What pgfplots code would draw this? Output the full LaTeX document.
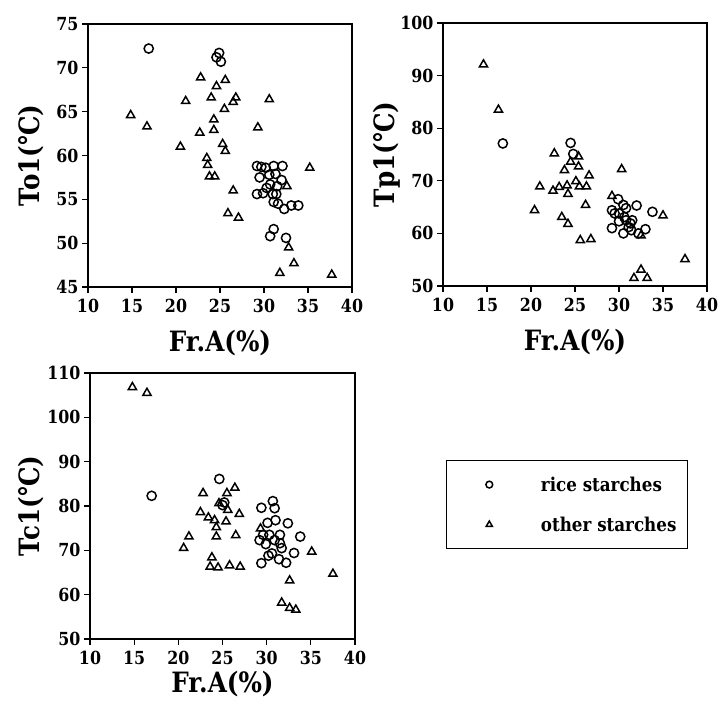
\documentclass[border=0pt]{standalone}
\usepackage{fontspec}
\setmainfont{DejaVu Serif}[FakeStretch=0.88]
\usepackage{pgfplots}
\pgfplotsset{compat=1.18}
\newcommand\degc{℃}
\newcommand\ticfont{\bfseries\fontsize{18}{18}\selectfont}
\newcommand\xlabfont{\bfseries\fontsize{28}{28}\selectfont}
\newcommand\ylabfont{\bfseries\fontsize{28}{28}\selectfont}
\newcommand\legfont{\bfseries\fontsize{19}{19}\selectfont}

\pgfplotsset{
  panel/.style={
    scale only axis, anchor=north west,
    xmin=10, xmax=40, xtick={10,15,...,40},
    axis line style={line width=1.2pt},
    tick align=outside, tick pos=left,
    major tick length=6pt,
    every tick/.style={line width=1.2pt, black},
    /pgf/number format/assume math mode=true,
    tick label style={font=\ticfont},
    xticklabel style={yshift=-3pt},
    xlabel={Fr.A(\%)},
    xlabel style={font=\xlabfont, anchor=base},
    ylabel style={font=\ylabfont, anchor=base},
  },
  rice/.style={only marks, mark=o, mark size=4.6pt,
    mark options={line width=1.5pt, black},
    legend image code/.code={\path (0pt,0pt) (40pt,0pt);
      \draw[##1, mark size=3.4pt] plot coordinates {(31pt,0pt)};}},
  other/.style={only marks, mark=triangle, mark size=4.7pt,
    mark options={line width=1.5pt, black},
    legend image code/.code={\path (0pt,0pt) (40pt,0pt);
      \draw[##1, mark size=3.5pt] plot coordinates {(31pt,0pt)};}},
}

\begin{document}
\begin{tikzpicture}
\useasboundingbox (0pt,0pt) rectangle (719pt,-704pt);

% To1
\begin{axis}[panel, at={(88pt,-24pt)}, width=264pt, height=263pt,
  ymin=45, ymax=75, ytick={45,50,...,75},
  ylabel={To1(\degc)},
  xlabel style={at={(axis description cs:0.5,-0.245)}},
  ylabel style={at={(axis description cs:-0.182,0.5)}}]
\addplot[rice] coordinates {
(16.9,72.2) (24.9,71.7) (25.1,70.7) (24.6,71.2)
(29.2,58.8) (29.7,58.7) (30.2,58.6) (31.1,58.8) (32.1,58.8)
(29.5,57.5) (30.6,57.8) (31.3,57.9) (32.0,57.2) (31.5,56.5)
(30.7,56.7) (30.3,56.3) (29.2,55.6) (29.9,55.7) (31.0,55.6)
(31.4,55.6) (31.6,54.5) (31.1,54.7) (32.3,53.9) (33.1,54.3)
(33.9,54.3) (31.1,51.6) (30.7,50.8) (32.5,50.6)};
\addplot[other] coordinates {
(14.85,64.6) (16.7,63.3) (20.5,61.0) (21.1,66.2) (22.8,68.9)
(22.7,62.6) (23.5,59.7) (23.6,58.9) (23.8,57.6) (24.4,57.6)
(24.0,66.6) (24.6,67.9) (24.3,64.1) (24.3,62.9) (25.6,68.6)
(25.5,65.3) (25.3,61.3) (25.6,60.5) (26.5,66.1) (26.8,66.6)
(26.5,56.0) (25.9,53.4) (27.1,52.9) (30.6,66.4) (29.3,63.2)
(35.2,58.6) (32.6,56.5) (32.8,49.5) (33.4,47.7) (31.8,46.6)
(37.7,46.4)};
\end{axis}

% Tp1
\begin{axis}[panel, at={(443pt,-23pt)}, width=264pt, height=263pt,
  ymin=50, ymax=100, ytick={50,60,...,100},
  ylabel={Tp1(\degc)},
  xlabel style={at={(axis description cs:0.5,-0.245)}},
  ylabel style={at={(axis description cs:-0.182,0.5)}}]
\addplot[rice] coordinates {
(16.8,77.1) (24.5,77.2) (24.8,75.1) (29.9,66.5) (29.2,64.4)
(29.5,63.8) (30.0,63.8) (30.5,65.4) (30.8,64.8) (32.0,65.3)
(30.0,62.3) (29.2,61.0) (30.5,60.0) (31.1,61.2) (31.5,62.5)
(31.4,60.6) (31.3,61.9) (32.2,60.0) (33.0,60.8) (33.8,64.1)
(30.6,63.1) (30.8,62.5)};
\addplot[other] coordinates {
(14.6,92.1) (16.3,83.5) (22.65,75.2) (21.0,68.9) (20.4,64.4)
(22.5,68.1) (23.2,68.8) (23.8,72.0) (24.2,67.5) (24.1,69.1)
(24.5,73.6) (25.1,69.9) (25.4,72.7) (25.4,74.6) (25.5,68.9)
(26.3,68.9) (26.6,71.0) (26.2,65.4) (23.5,63.1) (24.2,61.8)
(25.6,58.7) (26.8,58.9) (30.3,72.2) (29.2,67.1) (35.0,63.4)
(37.5,55.1) (31.7,51.5) (32.5,53.1) (33.2,51.5) (32.5,59.6)};
\end{axis}

% Tc1
\begin{axis}[panel, at={(90pt,-373pt)}, width=265pt, height=266pt,
  ymin=50, ymax=110, ytick={50,60,...,110},
  ylabel={Tc1(\degc)},
  xlabel style={at={(axis description cs:0.5,-0.2)}},
  ylabel style={at={(axis description cs:-0.189,0.5)}},
  legend style={at={(axis description cs:1.3434,0.673)}, anchor=north west,
    draw=black, line width=1.3pt, fill=white, font=\legfont,
    inner xsep=11pt, inner ysep=16pt, row sep=24pt,
    nodes={inner sep=0pt},
    /tikz/every odd column/.append style={column sep=42pt}},
  legend cell align=left]
\addplot[rice] coordinates {
(16.98,82.3) (24.64,86.1) (25.0,80.2) (25.2,80.8) (29.4,79.6)
(30.7,81.1) (30.9,79.5) (30.1,76.2) (31.0,76.8) (32.4,76.1)
(29.6,73.5) (30.3,73.5) (31.5,73.5) (29.2,72.3) (29.9,71.4)
(30.9,72.3) (31.7,70.5) (30.6,69.3) (29.4,67.1) (30.2,68.8)
(31.4,68.0) (32.2,67.2) (33.1,69.4) (33.8,73.1) (31.5,71.6)};
\addlegendentry{rice starches}
\addplot[other] coordinates {
(14.8,106.8) (16.45,105.5) (22.8,82.9) (25.5,82.9) (26.4,84.1)
(22.5,78.6) (23.4,77.4) (24.1,76.8) (24.3,75.2) (24.3,73.1)
(25.4,76.5) (25.6,79.1) (26.9,78.2) (26.5,73.4) (24.6,80.6)
(21.2,73.1) (20.6,70.5) (23.8,68.4) (23.6,66.3) (24.5,66.1)
(25.8,66.6) (27.0,66.3) (29.3,74.9) (35.1,69.7) (37.5,64.7)
(32.6,63.2) (31.7,58.2) (32.6,57.0) (33.3,56.6)};
\addlegendentry{other starches}
\end{axis}
\end{tikzpicture}
\end{document}
